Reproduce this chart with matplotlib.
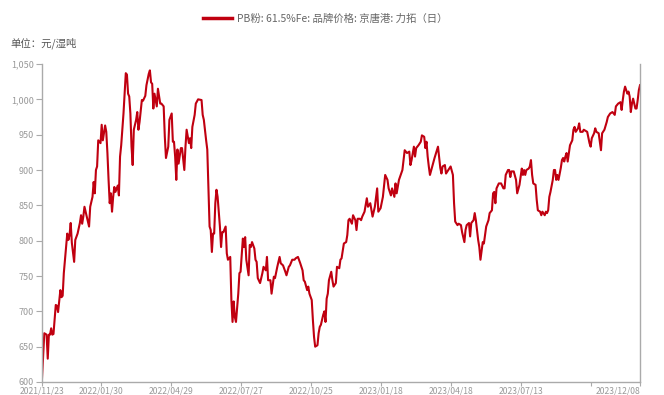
import matplotlib
matplotlib.use("Agg")
import matplotlib.pyplot as plt
from matplotlib.ticker import FuncFormatter, FixedLocator
from matplotlib.lines import Line2D

plt.rcParams['font.family'] = ['Noto Sans CJK SC', 'DejaVu Sans']

# trading-day index of each reading and the price (元/湿吨)
day = [0, 2, 4, 5, 6, 7, 8, 9, 10, 12, 13, 14, 16, 17, 18, 19, 21, 22, 23, 24,
       25, 26, 28, 29, 31, 33, 34, 35, 36, 37, 39, 41, 42, 44, 45, 46, 47, 48, 49, 51,
       52, 53, 55, 56, 57, 58, 59, 60, 61, 62, 63, 64, 66, 67, 68, 69, 71, 72, 73, 74,
       75, 76, 77, 78, 79, 80, 82, 83, 84, 85, 87, 88, 90, 91, 93, 94, 95, 96, 97, 98,
       100, 101, 103, 104, 106, 107, 108, 110, 111, 113, 114, 115, 116, 117, 118, 119, 121, 122, 124, 125,
       126, 128, 129, 130, 131, 133, 134, 136, 139, 140, 141, 143, 144, 145, 146, 147, 148, 149, 150, 151,
       152, 153, 155, 156, 157, 158, 160, 161, 162, 164, 165, 166, 167, 168, 169, 171, 172, 173, 175, 176,
       177, 178, 180, 181, 182, 183, 185, 186, 187, 188, 190, 192, 193, 195, 196, 197, 199, 200, 202, 203,
       205, 207, 208, 210, 212, 213, 215, 216, 218, 220, 221, 223, 225, 227, 228, 229, 231, 232, 233, 235,
       236, 237, 238, 240, 241, 242, 243, 245, 246, 247, 248, 249, 250, 252, 253, 254, 256, 257, 259, 260,
       261, 263, 265, 266, 267, 268, 270, 271, 273, 274, 275, 277, 278, 279, 281, 283, 284, 286, 288, 290,
       292, 293, 295, 297, 299, 301, 302, 304, 305, 307, 308, 309, 311, 314, 315, 316, 318, 320, 321, 322,
       324, 325, 326, 328, 330, 331, 333, 334, 335, 336, 337, 338, 340, 342, 344, 345, 347, 348, 349, 351,
       352, 354, 356, 358, 359, 360, 362, 363, 365, 366, 368, 369, 370, 372, 373, 374, 376, 377, 378, 380,
       381, 382, 384, 385, 387, 389, 390, 392, 393, 394, 395, 396, 398, 400, 402, 403, 404, 406, 407, 408,
       409, 411, 413, 414, 416, 417, 418, 419, 420, 421, 422, 424, 425, 426, 427, 428, 430, 431, 432, 434,
       435, 436, 438, 439, 440, 441, 442, 443, 445, 446, 447, 448, 449, 450, 452, 453, 454, 455, 456, 457,
       458, 460, 462, 463, 464, 465, 467, 468, 469, 471, 472, 475, 477, 478, 479, 481, 482, 483, 485, 486,
       487, 488, 490, 492, 493, 495, 497, 499, 500, 502, 504, 505, 506, 507, 508, 510, 511, 512, 513, 514,
       515, 517, 518, 519, 520, 521]
price = [605, 669, 667, 633, 667, 667, 676, 667, 668, 709, 708, 699, 730, 720, 722, 754, 791, 810, 801, 808,
         825, 797, 770, 801, 810, 825, 836, 824, 834, 848, 834, 820, 848, 862, 883, 867, 900, 905, 942, 938,
         964, 942, 963, 954, 924, 886, 853, 867, 841, 862, 876, 869, 878, 864, 919, 935, 980, 1008, 1037, 1035,
         1008, 1004, 980, 933, 907, 957, 971, 982, 957, 968, 999, 998, 1005, 1020, 1036, 1041, 1024, 1022, 987, 1008,
         990, 1015, 994, 994, 990, 947, 917, 933, 971, 980, 940, 940, 919, 886, 929, 909, 931, 931, 900, 933,
         957, 938, 945, 931, 961, 978, 994, 1000, 999, 978, 971, 942, 929, 876, 820, 815, 784, 810, 810, 853,
         872, 862, 820, 791, 812, 812, 820, 782, 773, 777, 716, 685, 714, 692, 685, 725, 754, 756, 803, 791,
         805, 773, 751, 794, 791, 798, 789, 773, 770, 747, 740, 754, 763, 758, 777, 744, 744, 725, 749, 747,
         763, 777, 768, 765, 756, 751, 763, 765, 773, 773, 775, 777, 768, 758, 744, 742, 730, 735, 725, 716,
         688, 664, 650, 652, 669, 678, 681, 695, 700, 685, 718, 725, 744, 756, 744, 735, 740, 763, 761, 773,
         775, 796, 798, 808, 829, 831, 824, 836, 829, 815, 831, 831, 829, 834, 841, 860, 848, 853, 834, 848,
         874, 841, 846, 862, 893, 886, 874, 864, 874, 862, 881, 867, 886, 900, 914, 928, 924, 926, 907, 914,
         933, 919, 931, 935, 940, 949, 947, 931, 940, 919, 905, 893, 905, 917, 928, 933, 903, 895, 905, 907,
         895, 900, 905, 893, 853, 827, 822, 824, 822, 812, 798, 815, 822, 825, 806, 825, 829, 839, 829, 801,
         791, 773, 798, 796, 820, 829, 839, 843, 867, 869, 853, 874, 881, 881, 874, 874, 893, 900, 900, 890,
         898, 898, 886, 867, 879, 890, 902, 893, 900, 893, 900, 902, 905, 914, 893, 881, 879, 858, 843, 841,
         836, 841, 836, 841, 839, 843, 862, 869, 886, 900, 900, 886, 893, 886, 903, 914, 917, 912, 919, 924,
         912, 935, 942, 957, 961, 954, 959, 966, 954, 954, 957, 954, 938, 933, 945, 952, 959, 954, 952, 940,
         928, 952, 957, 968, 975, 980, 982, 978, 990, 994, 996, 985, 999, 1011, 1018, 1008, 1011, 1004, 982, 994,
         1001, 987, 987, 999, 1013, 1020]

tick_days = [0, 51, 112, 173, 234, 295, 356, 417, 478, 521]
tick_labels = ['2021/11/23', '2022/01/30', '2022/04/29', '2022/07/27', '2022/10/25',
               '2023/01/18', '2023/04/18', '2023/07/13', '', '2023/12/08']
y_ticks = [600, 650, 700, 750, 800, 850, 900, 950, 1000, 1050]

series_name = 'PB粉: 61.5%Fe: 品牌价格: 京唐港: 力拓（日）'
unit_text = '单位：元/湿吨'

RED = '#C00010'
GREY = '#999999'
AXIS = '#AAAAAA'

fig = plt.figure(figsize=(6.64, 3.95), dpi=100)
ax = fig.add_axes([42/664, 1-382/395, (640-42)/664, (382-64)/395])

ax.plot(day, price, color=RED, lw=1.5, solid_joinstyle='round')

ax.set_xlim(0, 521)
ax.set_ylim(600, 1050)
ax.yaxis.set_major_locator(FixedLocator(y_ticks))
ax.yaxis.set_major_formatter(FuncFormatter(lambda v, p: f'{v:,.0f}'))
ax.set_xticks(tick_days)
ax.set_xticklabels(tick_labels)

ax.spines['top'].set_visible(False)
for s in ['left', 'bottom', 'right']:
    ax.spines[s].set_color(AXIS)
    ax.spines[s].set_linewidth(1.0)

ax.tick_params(axis='y', colors=AXIS, labelcolor=GREY, labelsize=6.5, length=4, width=0.8, pad=2)
ax.tick_params(axis='x', colors=AXIS, labelcolor=GREY, labelsize=6.2, length=3, width=0.8, pad=0.5)
xl = ax.get_xticklabels()
xl[-1].set_horizontalalignment('right')

handle = Line2D([0], [0], color=RED, lw=2.5)
fig.legend([handle], [series_name], loc='center', bbox_to_anchor=(0.49, 1-19/395),
           frameon=False, fontsize=7.5, labelcolor='#666666', handlelength=2.8,
           handletextpad=0.5)

fig.text(10/664, 1-43/395, unit_text, fontsize=7.5, color='#555555', va='center', ha='left')

fig.savefig('out.png', dpi=100)
